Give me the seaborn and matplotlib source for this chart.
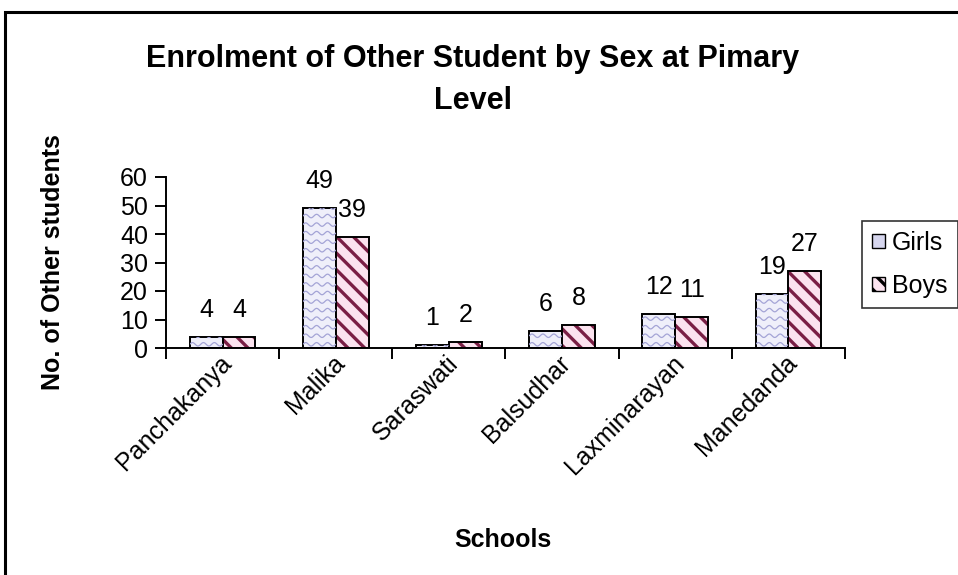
import numpy as np
import pandas as pd
import matplotlib
matplotlib.use("Agg")
import matplotlib.pyplot as plt
import matplotlib.transforms as mtransforms
import seaborn as sns
from matplotlib.patches import Rectangle, Patch

schools = ["Panchakanya", "Malika", "Saraswati", "Balsudhar", "Laxminarayan", "Manedanda"]
girls = [4, 49, 1, 6, 12, 19]
boys = [4, 39, 2, 8, 11, 27]
series = ["Girls", "Boys"]

sns.set_theme(style="white")
plt.rcParams["font.family"] = ["Liberation Sans", "DejaVu Sans"]
plt.rcParams["hatch.linewidth"] = 2.4
for key in ("text.color", "axes.labelcolor", "xtick.color", "ytick.color"):
    plt.rcParams[key] = "black"

df = pd.DataFrame({
    "School": schools * 2,
    "Count": girls + boys,
    "Sex": ["Girls"] * len(schools) + ["Boys"] * len(schools),
})

fig = plt.figure(figsize=(9.58, 5.75), dpi=100)
ax = fig.add_axes([166 / 958, 1 - 348 / 575, (845 - 166) / 958, (348 - 177) / 575])

girl_face = "#EFEFFA"
boy_face = "#FBE3EF"
sns.barplot(data=df, x="School", y="Count", hue="Sex", hue_order=series,
            palette=[girl_face, boy_face], width=0.58, ax=ax,
            edgecolor="black", linewidth=1.4, legend=False, saturation=1)

n = len(schools)
girl_bars = ax.patches[:n]
boy_bars = ax.patches[n:2 * n]

# diagonal stripes on the boys' bars
for b in boy_bars:
    b.set_hatch("\\\\")
    b._hatch_color = matplotlib.colors.to_rgba("#7A1F45")

# wavy texture on the girls' bars
for b in girl_bars:
    x0, w, h = b.get_x(), b.get_width(), b.get_height()
    xs = np.linspace(x0, x0 + w, 80)
    for y0 in np.arange(1.3, max(h, 1) + 3, 3.0):
        ys = y0 + 0.6 * np.sin((xs - x0) / w * 2 * np.pi * 3)
        ln, = ax.plot(xs, ys, color="#A4A4D6", lw=0.9, zorder=b.get_zorder() + 0.1)
        ln.set_clip_path(b)

# value labels above each bar
for bars, vals in ((girl_bars, girls), (boy_bars, boys)):
    for b, v in zip(bars, vals):
        ax.annotate(f"{v}", (b.get_x() + b.get_width() / 2, v),
                    xytext=(0, 19.5), textcoords="offset points",
                    ha="center", va="center", fontsize=18, color="black",
                    annotation_clip=False)

ax.set_ylim(0, 60)
ax.set_xlim(-0.5, n - 0.5)
ax.set_yticks(range(0, 61, 10))
ax.set_xticks(np.arange(-0.5, n, 1.0), minor=False)
ax.set_xticklabels([])
ax.set_xticks(np.arange(n), minor=True)
ax.set_xticklabels(schools, minor=True, rotation=45, ha="right", va="center",
                   rotation_mode="anchor", fontsize=18)
ax.tick_params(axis="x", which="minor", length=0, pad=8)
ax.tick_params(axis="x", which="major", direction="out", length=8, width=1.4,
               color="black", bottom=True)
ax.tick_params(axis="y", direction="out", length=8, width=1.4, color="black",
               left=True, labelsize=18, pad=5)

# nudge the slanted school names slightly to the right
shift = mtransforms.ScaledTranslation(5 / 100, 0, fig.dpi_scale_trans)
for lbl in ax.get_xticklabels(minor=True):
    lbl.set_transform(lbl.get_transform() + shift)

for side in ("top", "right"):
    ax.spines[side].set_visible(False)
for side in ("left", "bottom"):
    ax.spines[side].set_color("black")
    ax.spines[side].set_linewidth(1.4)

ax.set_ylabel("")
ax.set_xlabel("")
fig.text(53 / 958, 1 - 262 / 575, "No. of Other students", rotation=90,
         ha="center", va="center", fontsize=18, fontweight="bold")
fig.text(503 / 958, 1 - 540 / 575, "Schools", ha="center", va="center",
         fontsize=18, fontweight="bold")

fig.text(473 / 958, 1 - 80 / 575,
         "Enrolment of Other Student by Sex at Pimary\nLevel",
         ha="center", va="center", fontsize=22, fontweight="bold",
         linespacing=1.5)

handles = [
    Patch(facecolor="#D6D6EE", edgecolor="black", linewidth=1.0, label="Girls"),
    Patch(facecolor=boy_face, edgecolor="black", linewidth=1.0, hatch="\\\\", label="Boys"),
]
leg = fig.legend(handles=handles, loc="upper left",
                 bbox_to_anchor=(862 / 958, 1 - 221 / 575),
                 fontsize=18, frameon=True, fancybox=False, edgecolor="black",
                 handlelength=0.5, handleheight=0.5, handletextpad=0.3,
                 borderpad=0.4, labelspacing=0.75, borderaxespad=0)
leg.get_frame().set_linewidth(1.2)
leg.get_frame().set_facecolor("white")

# outer frame of the chart area
fig.patches.append(Rectangle((5 / 958, -0.05), 1.2, 1 - 12 / 575 + 0.05,
                             transform=fig.transFigure, fill=False,
                             edgecolor="black", linewidth=2.2, clip_on=False))

fig.savefig("out.png", dpi=100)
